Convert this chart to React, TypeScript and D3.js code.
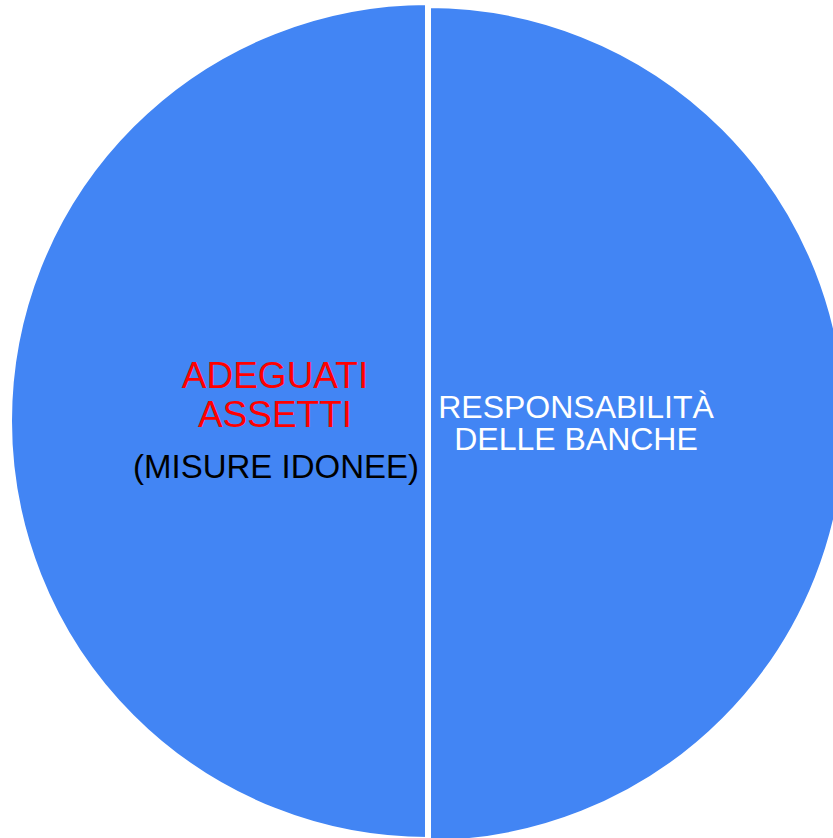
import React from "react";
import * as d3 from "d3";

const categories = ["ADEGUATI ASSETTI", "RESPONSABILITÀ DELLE BANCHE"];
const values = [50, 50];
const leftLabelRed = ["ADEGUATI", "ASSETTI"];
const leftLabelBlack = "(MISURE IDONEE)";
const rightLabel = ["RESPONSABILITÀ", "DELLE BANCHE"];

export default function App() {
  const W = 833, H = 838;
  const cx = 428, cy = 421, r = 419;
  const pie = d3.pie<number>().sort(null).startAngle(Math.PI).endAngle(3 * Math.PI);
  const arcs = pie(values);
  const arcGen = d3.arc<d3.PieArcDatum<number>>().innerRadius(0).outerRadius(r);
  const font = "'Liberation Sans', Arial, sans-serif";
  return (
    <svg width={W} height={H} style={{ position: "absolute", left: 0, top: 0 }}>
      <rect width={W} height={H} fill="#ffffff" />
      <g transform={`translate(${cx},${cy})`}>
        {arcs.map((a, i) => (
          <path
            key={categories[i]}
            d={arcGen(a) || ""}
            fill="#4285F4"
            stroke="#ffffff"
            strokeWidth={6}
            transform={i === 1 ? "translate(0,3)" : undefined}
          />
        ))}
      </g>
      <g fontFamily={font} textAnchor="middle">
        <text x={275} y={388} fontSize={37} fill="#ff0000">{leftLabelRed[0]}</text>
        <text x={275} y={427} fontSize={37} fill="#ff0000">{leftLabelRed[1]}</text>
        <text x={276} y={478} fontSize={33} fill="#000000">{leftLabelBlack}</text>
        <text x={576} y={418} fontSize={32} fill="#ffffff">{rightLabel[0]}</text>
        <text x={576} y={450} fontSize={32} fill="#ffffff">{rightLabel[1]}</text>
      </g>
    </svg>
  );
}
